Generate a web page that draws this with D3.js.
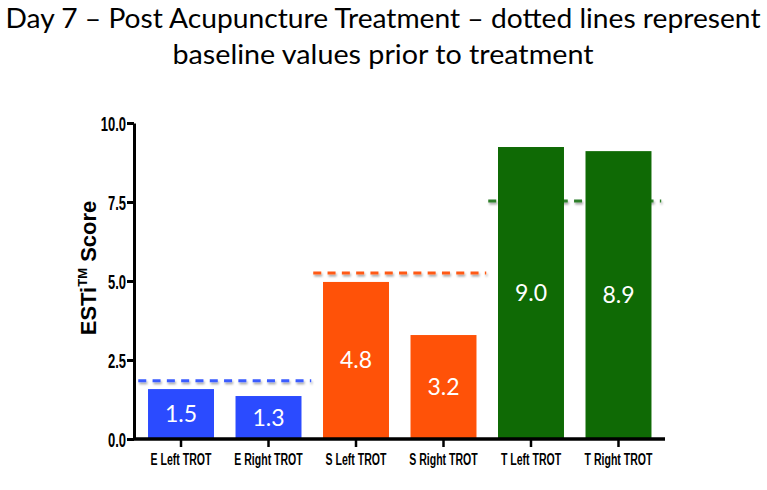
<!DOCTYPE html>
<html><head><meta charset="utf-8">
<script src="https://cdn.jsdelivr.net/npm/d3@7"></script>
<style>body{margin:0;background:#fff}svg{display:block}</style>
</head><body>
<svg id="c" width="767" height="490"></svg>
<script>
const categories = ["E Left TROT","E Right TROT","S Left TROT","S Right TROT","T Left TROT","T Right TROT"];
const barValues = [1.58, 1.36, 4.97, 3.29, 9.24, 9.11];
const valueLabels = ["1.5","1.3","4.8","3.2","9.0","8.9"];
const barColors = ["#2b4bff","#2b4bff","#ff5208","#ff5208","#0f6a05","#0f6a05"];
const baselineGroups = [["E Left TROT","E Right TROT"],["S Left TROT","S Right TROT"],["T Left TROT","T Right TROT"]];
const baselineValues = [1.84, 5.25, 7.53];
const baselineColors = ["#3a5cff","#ff5a14","#2f7f2a"];
const yTicks = [0, 2.5, 5, 7.5, 10];
const titleLines = ["Day 7 \u2013 Post Acupuncture Treatment \u2013 dotted lines represent","baseline values prior to treatment"];

const svg = d3.select("#c");
const defs = svg.append("defs");
const f = defs.append("filter").attr("id","sh").attr("filterUnits","userSpaceOnUse")
  .attr("x",0).attr("y",0).attr("width",767).attr("height",490);
f.append("feDropShadow").attr("dx",1).attr("dy",2).attr("stdDeviation",1).attr("flood-color","#000").attr("flood-opacity",0.35);

const x = d3.scaleBand().domain(categories).range([137, 662.5]).paddingInner(0.246).paddingOuter(0.126);
const y = d3.scaleLinear().domain([0,10]).range([439,123]);

// title
const tW = [755, 421];
titleLines.forEach((t,i)=>{
  svg.append("text").attr("x",383).attr("y",[28,64][i]).attr("text-anchor","middle")
    .attr("font-family","Lato, 'Open Sans', sans-serif").attr("font-size",27).attr("fill","#000")
    .attr("textLength",tW[i]).attr("lengthAdjust","spacingAndGlyphs").text(t);
});

// baselines (drawn under bars)
const step = x.step(), pin = step*x.paddingInner();
svg.append("g").selectAll("line").data(baselineGroups).join("line")
  .attr("x1",g=>x(g[0])-pin/2+1).attr("x2",g=>x(g[1])+x.bandwidth()+pin/2-1)
  .attr("y1",(g,i)=>y(baselineValues[i])).attr("y2",(g,i)=>y(baselineValues[i]))
  .attr("stroke",(g,i)=>baselineColors[i]).attr("stroke-width",3)
  .attr("stroke-dasharray","8,6.3").attr("filter","url(#sh)");

// bars
svg.append("g").selectAll("rect").data(categories).join("rect")
  .attr("x",d=>x(d)).attr("width",x.bandwidth())
  .attr("y",(d,i)=>y(barValues[i])).attr("height",(d,i)=>y(0)-y(barValues[i]))
  .attr("fill",(d,i)=>barColors[i]);

// value labels
svg.append("g").selectAll("text").data(categories).join("text")
  .attr("x",d=>x(d)+x.bandwidth()/2)
  .attr("y",(d,i)=>(y(barValues[i])+y(0))/2+8)
  .attr("text-anchor","middle").attr("fill","#fff")
  .attr("font-family","Lato, 'Open Sans', sans-serif").attr("font-size",23)
  .text((d,i)=>valueLabels[i]);

// y axis
const ya = svg.append("g").attr("transform","translate(134,0)")
  .call(d3.axisLeft(y).tickValues(yTicks).tickFormat(d3.format(".1f")).tickSize(7).tickSizeOuter(0));
ya.select(".domain").attr("stroke-width",3).attr("stroke","#000");
ya.selectAll(".tick line").attr("stroke-width",3).attr("stroke","#000");
ya.selectAll(".tick text").attr("x",0).attr("dy","0.36em")
  .attr("transform","translate(-8,0) scale(0.62,1)")
  .attr("font-family","'Liberation Sans', Arial, sans-serif").attr("font-weight","bold")
  .attr("font-size",21).attr("fill","#000");

// x axis
const xa = svg.append("g").attr("transform","translate(0,439)")
  .call(d3.axisBottom(x).tickSize(8).tickSizeOuter(0));
xa.select(".domain").remove();
xa.selectAll(".tick line").attr("stroke-width",2.5).attr("stroke","#000");
xa.selectAll(".tick text").attr("y",0).attr("dy",0)
  .attr("transform","translate(0,26) scale(0.62,1)")
  .attr("font-family","'Liberation Sans', Arial, sans-serif").attr("font-weight","bold")
  .attr("font-size",17).attr("fill","#000");
svg.append("line").attr("x1",133).attr("x2",665).attr("y1",y(0)).attr("y2",y(0))
  .attr("stroke","#000").attr("stroke-width",3.5);

// y title
const yt = svg.append("text").attr("transform","translate(96,268) rotate(-90)")
  .attr("text-anchor","middle").attr("font-family","'Liberation Sans', Arial, sans-serif")
  .attr("font-weight","bold").attr("font-size",22).attr("fill","#000");
yt.append("tspan").text("ESTi");
yt.append("tspan").attr("font-size",13).attr("dy",-9).text("TM");
yt.append("tspan").attr("dy",9).text(" Score");
</script>
</body></html>
